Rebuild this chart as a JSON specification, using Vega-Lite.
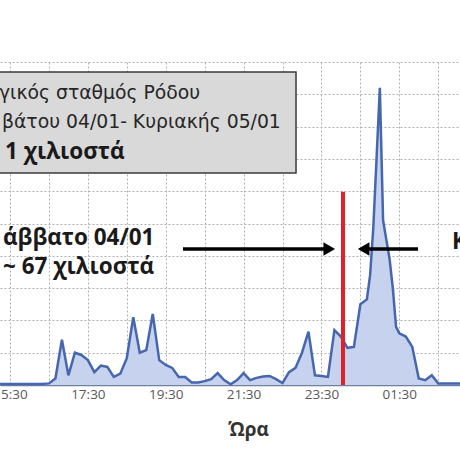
{
  "$schema": "https://vega.github.io/schema/vega-lite/v6.json",
  "width": 460,
  "height": 323,
  "autosize": {"type": "none"},
  "padding": {"left": 0, "top": 62, "right": 0, "bottom": 75},
  "background": "white",
  "config": {"view": {"stroke": null}},
  "encoding": {
    "x": {
      "field": "t", "type": "temporal",
      "scale": {"domain": [
        {"year": 2020, "month": 1, "date": 4, "hours": 15, "minutes": 14, "seconds": 35},
        {"year": 2020, "month": 1, "date": 5, "hours": 3, "minutes": 3, "seconds": 32}
      ]},
      "axis": {
        "values": [
          {"year": 2020, "month": 1, "date": 4, "hours": 15, "minutes": 30},
          {"year": 2020, "month": 1, "date": 4, "hours": 16, "minutes": 30},
          {"year": 2020, "month": 1, "date": 4, "hours": 17, "minutes": 30},
          {"year": 2020, "month": 1, "date": 4, "hours": 18, "minutes": 30},
          {"year": 2020, "month": 1, "date": 4, "hours": 19, "minutes": 30},
          {"year": 2020, "month": 1, "date": 4, "hours": 20, "minutes": 30},
          {"year": 2020, "month": 1, "date": 4, "hours": 21, "minutes": 30},
          {"year": 2020, "month": 1, "date": 4, "hours": 22, "minutes": 30},
          {"year": 2020, "month": 1, "date": 4, "hours": 23, "minutes": 30},
          {"year": 2020, "month": 1, "date": 5, "hours": 0, "minutes": 30},
          {"year": 2020, "month": 1, "date": 5, "hours": 1, "minutes": 30},
          {"year": 2020, "month": 1, "date": 5, "hours": 2, "minutes": 30}
        ],
        "labelExpr": "hours(datum.value) % 2 == 1 ? timeFormat(datum.value, '%H:%M') : ''",
        "labelFlush": false,
        "labelOverlap": false,
        "labelBound": false,
        "labelColor": "#595959",
        "labelFontSize": 13.5,
        "labelFont": "Open Sans",
        "labelPadding": 2,
        "ticks": false,
        "domainColor": "#6f7f9f",
        "domainWidth": 1.5,
        "grid": true,
        "gridColor": "#b0b0b0",
        "gridDash": [2, 2],
        "title": "Ώρα",
        "titleFont": "Open Sans",
        "titleFontSize": 19,
        "titleFontWeight": "bold",
        "titleColor": "#333333",
        "titleX": 248,
        "titleY": 50,
        "titleBaseline": "alphabetic"
      }
    },
    "y": {
      "field": "v", "type": "quantitative",
      "scale": {"domain": [0, 10], "nice": false},
      "axis": {
        "values": [0, 1, 2, 3, 4, 5, 6, 7, 8, 9, 10],
        "labels": false, "ticks": false, "domain": false, "title": null,
        "grid": true, "gridColor": "#b0b0b0", "gridDash": [2, 2]
      }
    }
  },
  "layer": [
    {
      "data": {"values": [
        {"t": "2020-01-04T15:10", "v": 0.03},
        {"t": "2020-01-04T15:20", "v": 0.03},
        {"t": "2020-01-04T15:30", "v": 0.03},
        {"t": "2020-01-04T15:40", "v": 0.03},
        {"t": "2020-01-04T15:50", "v": 0.03},
        {"t": "2020-01-04T16:00", "v": 0.03},
        {"t": "2020-01-04T16:10", "v": 0.03},
        {"t": "2020-01-04T16:20", "v": 0.03},
        {"t": "2020-01-04T16:30", "v": 0.05},
        {"t": "2020-01-04T16:40", "v": 0.2},
        {"t": "2020-01-04T16:50", "v": 1.4},
        {"t": "2020-01-04T17:00", "v": 0.3},
        {"t": "2020-01-04T17:10", "v": 1.0},
        {"t": "2020-01-04T17:20", "v": 0.93},
        {"t": "2020-01-04T17:30", "v": 0.77},
        {"t": "2020-01-04T17:40", "v": 0.4},
        {"t": "2020-01-04T17:50", "v": 0.6},
        {"t": "2020-01-04T18:00", "v": 0.56},
        {"t": "2020-01-04T18:10", "v": 0.25},
        {"t": "2020-01-04T18:20", "v": 0.35},
        {"t": "2020-01-04T18:30", "v": 0.83},
        {"t": "2020-01-04T18:40", "v": 2.1},
        {"t": "2020-01-04T18:50", "v": 1.0},
        {"t": "2020-01-04T19:00", "v": 1.08},
        {"t": "2020-01-04T19:10", "v": 2.2},
        {"t": "2020-01-04T19:20", "v": 0.77},
        {"t": "2020-01-04T19:30", "v": 0.62},
        {"t": "2020-01-04T19:40", "v": 0.53},
        {"t": "2020-01-04T19:50", "v": 0.25},
        {"t": "2020-01-04T20:00", "v": 0.25},
        {"t": "2020-01-04T20:10", "v": 0.08},
        {"t": "2020-01-04T20:20", "v": 0.08},
        {"t": "2020-01-04T20:30", "v": 0.12},
        {"t": "2020-01-04T20:40", "v": 0.18},
        {"t": "2020-01-04T20:50", "v": 0.37},
        {"t": "2020-01-04T21:00", "v": 0.15},
        {"t": "2020-01-04T21:10", "v": 0.02},
        {"t": "2020-01-04T21:20", "v": 0.15},
        {"t": "2020-01-04T21:30", "v": 0.37},
        {"t": "2020-01-04T21:40", "v": 0.15},
        {"t": "2020-01-04T21:50", "v": 0.22},
        {"t": "2020-01-04T22:00", "v": 0.26},
        {"t": "2020-01-04T22:10", "v": 0.28},
        {"t": "2020-01-04T22:20", "v": 0.18},
        {"t": "2020-01-04T22:30", "v": 0.06},
        {"t": "2020-01-04T22:40", "v": 0.4},
        {"t": "2020-01-04T22:50", "v": 0.53},
        {"t": "2020-01-04T23:00", "v": 1.0},
        {"t": "2020-01-04T23:10", "v": 1.65},
        {"t": "2020-01-04T23:20", "v": 0.3},
        {"t": "2020-01-04T23:30", "v": 0.28},
        {"t": "2020-01-04T23:40", "v": 0.25},
        {"t": "2020-01-04T23:50", "v": 1.7},
        {"t": "2020-01-05T00:00", "v": 1.5},
        {"t": "2020-01-05T00:10", "v": 1.15},
        {"t": "2020-01-05T00:20", "v": 1.18},
        {"t": "2020-01-05T00:30", "v": 2.5},
        {"t": "2020-01-05T00:40", "v": 2.65},
        {"t": "2020-01-05T00:45", "v": 3.4},
        {"t": "2020-01-05T00:50", "v": 4.9},
        {"t": "2020-01-05T01:00", "v": 9.2},
        {"t": "2020-01-05T01:05", "v": 5.1},
        {"t": "2020-01-05T01:10", "v": 4.5},
        {"t": "2020-01-05T01:15", "v": 3.9},
        {"t": "2020-01-05T01:20", "v": 3.0},
        {"t": "2020-01-05T01:25", "v": 1.8},
        {"t": "2020-01-05T01:30", "v": 1.6},
        {"t": "2020-01-05T01:40", "v": 1.5},
        {"t": "2020-01-05T01:50", "v": 1.18},
        {"t": "2020-01-05T02:00", "v": 0.2},
        {"t": "2020-01-05T02:10", "v": 0.15},
        {"t": "2020-01-05T02:20", "v": 0.3},
        {"t": "2020-01-05T02:30", "v": 0.05},
        {"t": "2020-01-05T02:40", "v": 0.05},
        {"t": "2020-01-05T02:50", "v": 0.05},
        {"t": "2020-01-05T03:00", "v": 0.05},
        {"t": "2020-01-05T03:10", "v": 0.05}
      ]},
      "mark": {"type": "area", "color": "#c6d2ee", "opacity": 1,
               "line": {"color": "#4666ae", "strokeWidth": 2.5}}
    },
    {
      "data": {"values": [
        {"t": "2020-01-04T14:59:00", "t2": "2020-01-04T22:50:48", "v": 9.69, "v2": 6.56}
      ]},
      "mark": {"type": "rect", "fill": "#d9d9d9", "stroke": "#3a3a3a", "strokeWidth": 1.5},
      "encoding": {"x2": {"field": "t2"}, "y2": {"field": "v2"}}
    },
    {
      "data": {"values": [
        {"t": "2020-01-04T15:13:03", "v": 9.04, "label": "γικός σταθμός  Ρόδου"},
        {"t": "2020-01-04T15:17:40", "v": 8.14, "label": "βάτου 04/01- Κυριακής 05/01"}
      ]},
      "mark": {"type": "text", "align": "left", "baseline": "middle", "font": "DejaVu Sans", "fontSize": 18.8, "color": "#262626"},
      "encoding": {"text": {"field": "label"}}
    },
    {
      "data": {"values": [
        {"t": "2020-01-04T15:22:18", "v": 7.21, "label": "1 χιλιοστά"},
        {"t": "2020-01-04T15:19:12", "v": 4.55, "label": "άββατο 04/01"},
        {"t": "2020-01-04T15:19:12", "v": 3.65, "label": "~ 67 χιλιοστά"},
        {"t": "2020-01-05T02:51:12", "v": 4.43, "label": "Κυριακή 05/01"}
      ]},
      "mark": {"type": "text", "align": "left", "baseline": "middle", "font": "Open Sans", "fontSize": 22.5, "fontWeight": "bold", "color": "#1a1a1a"},
      "encoding": {"text": {"field": "label"}}
    },
    {
      "data": {"values": [
        {"t": "2020-01-05T00:03:12", "v": 0, "v2": 5.98}
      ]},
      "mark": {"type": "rule", "color": "#e02228", "strokeWidth": 4},
      "encoding": {"y2": {"field": "v2"}}
    },
    {
      "data": {"values": [
        {"t": "2020-01-04T19:56:36", "t2": "2020-01-04T23:42:00", "v": 4.21},
        {"t": "2020-01-05T00:35:00", "t2": "2020-01-05T01:58:48", "v": 4.21}
      ]},
      "mark": {"type": "rule", "color": "#000000", "strokeWidth": 3.5},
      "encoding": {"x2": {"field": "t2"}}
    },
    {
      "data": {"values": [
        {"t": "2020-01-04T23:42:00", "v": 4.21, "dir": "right"},
        {"t": "2020-01-05T00:35:00", "v": 4.21, "dir": "left"}
      ]},
      "mark": {"type": "point", "filled": true, "color": "#000000", "opacity": 1, "size": 180},
      "encoding": {
        "shape": {"field": "dir", "type": "nominal",
                  "scale": {"domain": ["right", "left"], "range": ["triangle-right", "triangle-left"]},
                  "legend": null}
      }
    }
  ]
}
